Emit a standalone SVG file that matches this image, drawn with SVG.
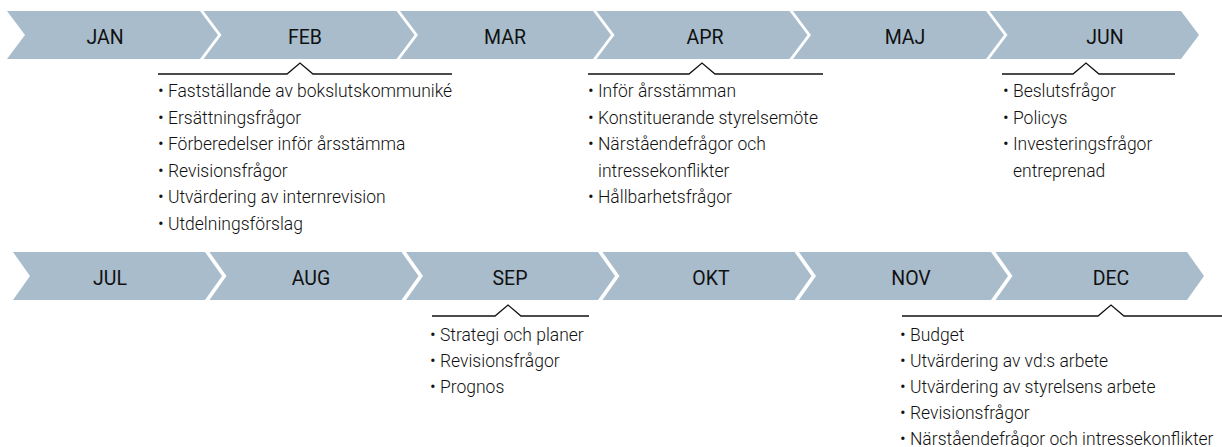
<svg xmlns="http://www.w3.org/2000/svg" width="1222" height="447" viewBox="0 0 1222 447">
<style>
.chev{fill:#a8bccc;}
.m{font-family:Roboto,"Liberation Sans",sans-serif;font-size:19.5px;font-weight:400;fill:#111;text-anchor:middle;}
.t{font-family:Roboto,"Liberation Sans",sans-serif;font-size:17.5px;font-weight:300;fill:#111;}
.c{fill:none;stroke:#111;stroke-width:1.3;}
</style>
<rect width="1222" height="447" fill="#fff"/>
<g id="jan"><polygon class="chev" points="7,11 200,11 218,35 200,59 7,59 25,35"/><text class="m" x="105" y="44">JAN</text></g>
<g id="feb"><polygon class="chev" points="203.5,11 396.5,11 414.5,35 396.5,59 203.5,59 221.5,35"/><text class="m" x="305" y="44">FEB</text></g>
<g id="mar"><polygon class="chev" points="400,11 593,11 611,35 593,59 400,59 418,35"/><text class="m" x="505" y="44">MAR</text></g>
<g id="apr"><polygon class="chev" points="596.5,11 789.5,11 807.5,35 789.5,59 596.5,59 614.5,35"/><text class="m" x="705" y="44">APR</text></g>
<g id="maj"><polygon class="chev" points="793,11 986,11 1004,35 986,59 793,59 811,35"/><text class="m" x="905" y="44">MAJ</text></g>
<g id="jun"><polygon class="chev" points="989.5,11 1181,11 1199,35 1181,59 989.5,59 1007.5,35"/><text class="m" x="1105" y="44">JUN</text></g>

<g id="jul"><polygon class="chev" points="13,252 205,252 222,276 205,300 13,300 30,276"/><text class="m" x="110" y="285">JUL</text></g>
<g id="aug"><polygon class="chev" points="209.5,252 401.5,252 418.5,276 401.5,300 209.5,300 226.5,276"/><text class="m" x="311" y="285">AUG</text></g>
<g id="sep"><polygon class="chev" points="406,252 598,252 615,276 598,300 406,300 423,276"/><text class="m" x="510" y="285">SEP</text></g>
<g id="okt"><polygon class="chev" points="602.5,252 794.5,252 811.5,276 794.5,300 602.5,300 619.5,276"/><text class="m" x="711" y="285">OKT</text></g>
<g id="nov"><polygon class="chev" points="799,252 991,252 1008,276 991,300 799,300 816,276"/><text class="m" x="911" y="285">NOV</text></g>
<g id="dec"><polygon class="chev" points="995.5,252 1187,252 1204,276 1187,300 995.5,300 1012.5,276"/><text class="m" x="1111" y="285">DEC</text></g>

<g id="connectors">
<polyline class="c" points="158,74 287,74 300,63 313,74 452,74"/>
<polyline class="c" points="588,74 689,74 702,63 715,74 823,74"/>
<polyline class="c" points="1002,74 1073,74 1086,63 1099,74 1175,74"/>
<polyline class="c" points="432,316 495,316 508,305 521,316 589,316"/>
<polyline class="c" points="902,316 1098,316 1111,305 1124,316 1222,316"/>
</g>

<g id="feb-list">
<text class="t" x="158" y="97">• Fastställande av bokslutskommuniké</text>
<text class="t" x="158" y="123.5">• Ersättningsfrågor</text>
<text class="t" x="158" y="150">• Förberedelser inför årsstämma</text>
<text class="t" x="158" y="176.5">• Revisionsfrågor</text>
<text class="t" x="158" y="203">• Utvärdering av internrevision</text>
<text class="t" x="158" y="229.5">• Utdelningsförslag</text>
</g>
<g id="apr-list">
<text class="t" x="588" y="97">• Inför årsstämman</text>
<text class="t" x="588" y="123.5">• Konstituerande styrelsemöte</text>
<text class="t" x="588" y="150">• Närståendefrågor och</text>
<text class="t" x="598" y="176.5">intressekonflikter</text>
<text class="t" x="588" y="203">• Hållbarhetsfrågor</text>
</g>
<g id="jun-list">
<text class="t" x="1003" y="97">• Beslutsfrågor</text>
<text class="t" x="1003" y="123.5">• Policys</text>
<text class="t" x="1003" y="150">• Investeringsfrågor</text>
<text class="t" x="1013" y="176.5">entreprenad</text>
</g>
<g id="sep-list">
<text class="t" x="430" y="341">• Strategi och planer</text>
<text class="t" x="430" y="367">• Revisionsfrågor</text>
<text class="t" x="430" y="393">• Prognos</text>
</g>
<g id="dec-list">
<text class="t" x="900" y="341">• Budget</text>
<text class="t" x="900" y="367">• Utvärdering av vd:s arbete</text>
<text class="t" x="900" y="393">• Utvärdering av styrelsens arbete</text>
<text class="t" x="900" y="419">• Revisionsfrågor</text>
<text class="t" x="900" y="445">• Närståendefrågor och intressekonflikter</text>
</g>
</svg>
